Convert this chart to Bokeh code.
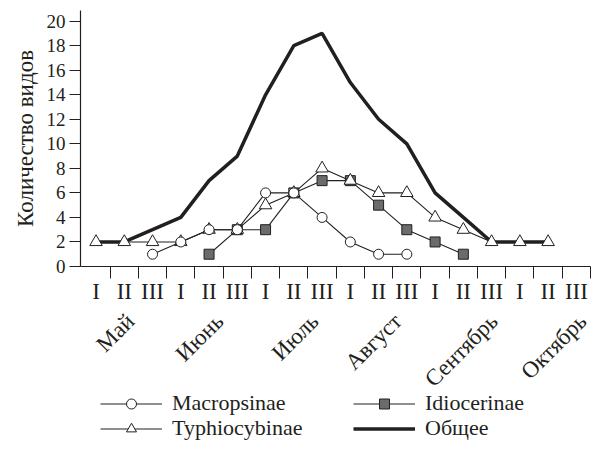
import math
from bokeh.plotting import figure
from bokeh.models import Range1d, FixedTicker, Legend, LegendItem, LinearAxis
from bokeh.layouts import column
from bokeh.embed import file_html
from bokeh.resources import INLINE

nan = float("nan")

# ---- data ----
decades = ["I", "II", "III"] * 6
months = ["Май", "Июнь", "Июль", "Август", "Сентябрь", "Октябрь"]
y_ticks = [0, 2, 4, 6, 8, 10, 12, 14, 16, 18, 20]

macropsinae = [nan, nan, 1, 2, 3, 3, 6, 6, 4, 2, 1, 1, nan, nan, nan, nan, nan, nan]
idiocerinae = [nan, nan, nan, nan, 1, 3, 3, 6, 7, 7, 5, 3, 2, 1, nan, nan, nan, nan]
typhiocybinae = [2, 2, 2, 2, 3, 3, 5, 6, 8, 7, 6, 6, 4, 3, 2, 2, 2, nan]
total = [2, 2, 3, 4, 7, 9, 14, 18, 19, 15, 12, 10, 6, 4, 2, 2, 2, nan]

# ---- derived positions (category centres / boundaries) ----
xc = [i + 0.5 for i in range(len(decades))]
boundaries = [i for i in range(1, len(decades) + 1)]
month_shift = [0.22, 0.37, 0.74, 0.68, 1.08, 1.34]   # label placement tweak
month_pos = [3 * m + 1.5 + s for m, s in enumerate(month_shift)]

INK = "#231f20"
FONT = "Liberation Serif"
SQ_FILL = "#6b6b6b"

p = figure(width=591, height=403,
           x_range=Range1d(-0.05, 18), y_range=Range1d(0, 20.87),
           output_backend="svg", toolbar_location=None,
           min_border_left=80, min_border_right=1,
           min_border_top=10, min_border_bottom=136)
p.outline_line_color = None
p.xgrid.visible = False
p.ygrid.visible = False
p.background_fill_color = "white"

# y axis
p.yaxis.ticker = FixedTicker(ticks=y_ticks)
p.yaxis.minor_tick_line_color = None
p.yaxis.major_tick_in = 0
p.yaxis.major_tick_out = 11
p.yaxis.major_label_standoff = 4
p.yaxis.major_label_text_font = FONT
p.yaxis.major_label_text_font_size = "19px"
p.yaxis.major_label_text_color = INK
p.yaxis.axis_label = "Количество видов"
p.yaxis.axis_label_text_font = FONT
p.yaxis.axis_label_text_font_size = "23px"
p.yaxis.axis_label_text_font_style = "normal"
p.yaxis.axis_label_text_color = INK
p.yaxis.axis_label_standoff = 6
p.yaxis.axis_line_color = INK
p.yaxis.axis_line_width = 1.2
p.yaxis.major_tick_line_color = INK

# x axis: boundary ticks only
p.xaxis.ticker = FixedTicker(ticks=boundaries)
p.xaxis.minor_tick_line_color = None
p.xaxis.major_tick_in = 0
p.xaxis.major_tick_out = 12
p.xaxis.major_label_overrides = {b: "" for b in boundaries}
p.xaxis.major_label_standoff = 0
p.xaxis.major_label_text_font_size = "4px"
p.xaxis.axis_line_color = INK
p.xaxis.axis_line_width = 1.2
p.xaxis.major_tick_line_color = INK

# decade numerals
ax_dec = LinearAxis(ticker=FixedTicker(ticks=xc),
                    major_label_overrides={x: t for x, t in zip(xc, decades)},
                    axis_line_color=None, major_tick_line_color=None,
                    minor_tick_line_color=None, major_tick_out=0, major_tick_in=0,
                    major_label_standoff=0, major_label_text_font=FONT,
                    major_label_text_font_size="23px", major_label_text_color=INK)
p.add_layout(ax_dec, "below")

# month names, rotated
ax_mon = LinearAxis(ticker=FixedTicker(ticks=month_pos),
                    major_label_overrides={x: t for x, t in zip(month_pos, months)},
                    major_label_orientation=math.pi / 4,
                    axis_line_color=None, major_tick_line_color=None,
                    minor_tick_line_color=None, major_tick_out=0, major_tick_in=0,
                    major_label_standoff=11, major_label_text_font=FONT,
                    major_label_text_font_size="23px", major_label_text_color=INK)
p.add_layout(ax_mon, "below")

# series
tl = p.line(xc, total, line_color=INK, line_width=3.5)

il = p.line(xc, idiocerinae, line_color=INK, line_width=1.1)
isc = p.scatter(xc, idiocerinae, marker="square", size=10,
                fill_color=SQ_FILL, line_color=INK, line_width=1)

yl = p.line(xc, typhiocybinae, line_color=INK, line_width=1.1)
ysc = p.scatter(xc, typhiocybinae, marker="triangle", size=12.5,
                fill_color="white", line_color=INK, line_width=1)

ml = p.line(xc, macropsinae, line_color=INK, line_width=1.1)
msc = p.scatter(xc, macropsinae, marker="circle", size=10,
                fill_color="white", line_color=INK, line_width=1)

# ---- legend strip: a second plot whose data lie outside its view,
#      so only the legend samples are seen ----
q = figure(width=591, height=50, output_backend="svg", toolbar_location=None,
           x_range=Range1d(100, 101), y_range=Range1d(100, 101),
           x_axis_location=None, y_axis_location=None,
           min_border_left=0, min_border_right=0, min_border_top=0, min_border_bottom=0)
q.outline_line_color = None
q.xgrid.visible = False
q.ygrid.visible = False
q.background_fill_alpha = 0
q.border_fill_alpha = 0
q.margin = (-12, 0, 0, 0)

lq_m = q.line(xc, macropsinae, line_color=INK, line_width=1.1)
sq_m = q.scatter(xc, macropsinae, marker="circle", size=10, fill_color="white", line_color=INK)
lq_i = q.line(xc, idiocerinae, line_color=INK, line_width=1.1)
sq_i = q.scatter(xc, idiocerinae, marker="square", size=10, fill_color=SQ_FILL, line_color=INK)
lq_t = q.line(xc, typhiocybinae, line_color=INK, line_width=1.1)
sq_t = q.scatter(xc, typhiocybinae, marker="triangle", size=12.5, fill_color="white", line_color=INK)
lq_o = q.line(xc, total, line_color=INK, line_width=3.5)


def make_legend(items, loc):
    return Legend(items=items, location=loc, orientation="horizontal",
                  glyph_width=62, glyph_height=25, label_width=135,
                  label_standoff=10, spacing=46, padding=0, margin=0,
                  label_text_font=FONT, label_text_font_size="22px",
                  label_text_color=INK, background_fill_alpha=0,
                  border_line_alpha=0)


q.add_layout(make_legend([LegendItem(label="Macropsinae", renderers=[lq_m, sq_m]),
                          LegendItem(label="Idiocerinae", renderers=[lq_i, sq_i])],
                         (20, 25)))
q.add_layout(make_legend([LegendItem(label="Typhiocybinae", renderers=[lq_t, sq_t]),
                          LegendItem(label="Общее", renderers=[lq_o])],
                         (20, 0)))

layout = column(p, q, spacing=0)
open("out.html", "w").write(file_html(layout, INLINE))
